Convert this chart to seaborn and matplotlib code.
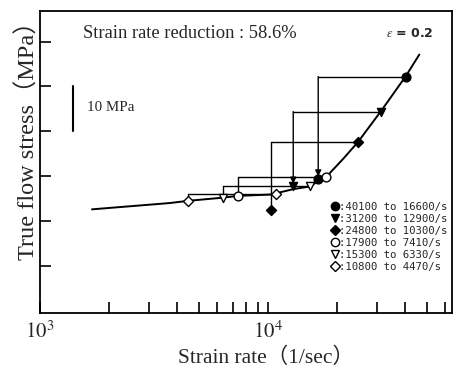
import numpy as np
import pandas as pd
import matplotlib
matplotlib.use("Agg")
import matplotlib.pyplot as plt
import seaborn as sns

# ---- data ----
curve_rate = [1690, 3700, 4470, 6330, 7410, 10300, 12900, 15300, 16600, 17900,
              21400, 24800, 31200, 40100, 46100]
curve_stress = [22.6, 24.0, 24.5, 25.2, 25.6, 25.9, 27.1, 27.7, 28.9, 29.7,
                33.9, 37.6, 44.4, 52.2, 57.1]

series_labels = [":40100 to 16600/s", ":31200 to 12900/s", ":24800 to 10300/s",
                 ":17900 to 7410/s", ":15300 to 6330/s", ":10800 to 4470/s"]
from_rate = [40100, 31200, 24800, 17900, 15300, 10800]
from_stress = [52.2, 44.4, 37.6, 29.8, 27.7, 26.1]
to_rate = [16600, 12900, 10300, 7410, 6330, 4470]
to_stress = [29.3, 27.7, 22.4, 25.6, 25.2, 24.5]
markers = ["o", "v", "D", "o", "v", "D"]
filled = [True, True, True, False, False, False]
arrowed = [True, True, False, False, False, False]

x_ticks = [1e3, 1e4]
x_ticklabels = ["$10^3$", "$10^4$"]
y_ticks = [10, 20, 30, 40, 50, 60]
scale_bar_rate = 1390
scale_bar_stress = [40, 50]

sns.set_style("white")
plt.rcParams["font.family"] = ["Liberation Serif", "Noto Sans CJK SC", "DejaVu Sans"]
plt.rcParams["mathtext.fontset"] = "stix"

fig = plt.figure(figsize=(4.57, 3.69), dpi=100)
ax = fig.add_axes([40/457, 1-313/369, 412/457, 302/369])

curve_df = pd.DataFrame({"rate": curve_rate, "stress": curve_stress})
sns.lineplot(data=curve_df, x="rate", y="stress", ax=ax, color="black", lw=1.4,
             sort=False, estimator=None)

ms_map = {"o": 40, "v": 34, "D": 26}
handles = []
for i in range(len(series_labels)):
    fc = "black" if filled[i] else "white"
    ax.plot([from_rate[i], to_rate[i]], [from_stress[i], from_stress[i]],
            color="black", lw=1.0, zorder=2)
    if arrowed[i]:
        ax.annotate("", xy=(to_rate[i], to_stress[i]), xytext=(to_rate[i], from_stress[i]),
                    arrowprops=dict(arrowstyle="-|>", color="black", lw=1.0,
                                    mutation_scale=9, shrinkA=0, shrinkB=2), zorder=2)
    else:
        ax.plot([to_rate[i], to_rate[i]], [from_stress[i], to_stress[i]],
                color="black", lw=1.0, zorder=2)
    pts = pd.DataFrame({"rate": [from_rate[i], to_rate[i]],
                        "stress": [from_stress[i], to_stress[i]]})
    sns.scatterplot(data=pts, x="rate", y="stress", ax=ax, marker=markers[i],
                    s=ms_map[markers[i]], facecolor=fc, edgecolor="black",
                    linewidth=1.0, zorder=4)
    handles.append(plt.Line2D([], [], ls="", marker=markers[i], markersize=6 if markers[i] != "D" else 5,
                              markerfacecolor=fc, markeredgecolor="black", markeredgewidth=1.0))

# scale bar
ax.plot([scale_bar_rate, scale_bar_rate], scale_bar_stress, color="black", lw=1.5)
ax.text(0.114, 0.679, "10 MPa", transform=ax.transAxes, fontsize=10.8, va="center", ha="left")

ax.text(0.104, 0.927, "Strain rate reduction : 58.6%", transform=ax.transAxes,
        fontsize=13.3, va="center", ha="left")
ax.text(0.896, 0.924, r"$\varepsilon$ = 0.2", transform=ax.transAxes,
        fontsize=9, va="center", ha="center", family=["DejaVu Sans"], fontweight="bold")

leg = ax.legend(handles, series_labels, loc="lower left", bbox_to_anchor=(0.706, 0.135),
                frameon=False, handlelength=0.8, handletextpad=0.0, labelspacing=0.2,
                borderaxespad=0, borderpad=0,
                prop={"family": "DejaVu Sans Mono", "size": 7.7})

ax.set_xscale("log")
ax.set_xlim(1e3, 64100)
ax.set_ylim(-0.5, 66.8)
ax.set_xticks(x_ticks)
ax.set_xticklabels(x_ticklabels, fontsize=15)
ax.xaxis.set_minor_locator(matplotlib.ticker.LogLocator(base=10, subs=np.arange(2, 10)))
ax.xaxis.set_minor_formatter(matplotlib.ticker.NullFormatter())
ax.set_yticks(y_ticks)
ax.set_yticklabels([])
ax.tick_params(axis="both", which="both", direction="in", length=8, width=1.2,
               color="black", bottom=True, left=True, top=False, right=False)
ax.tick_params(axis="x", which="major", pad=6)

for s in ax.spines.values():
    s.set_color("black")
    s.set_linewidth(1.3)

ax.set_xlabel("Strain rate（1/sec）", fontsize=15.5)
ax.set_ylabel("True flow stress（MPa）", fontsize=17.5)
ax.xaxis.set_label_coords(0.549, -0.115)
ax.yaxis.set_label_coords(-0.002, 0.589)

fig.savefig("out.png", dpi=100)
